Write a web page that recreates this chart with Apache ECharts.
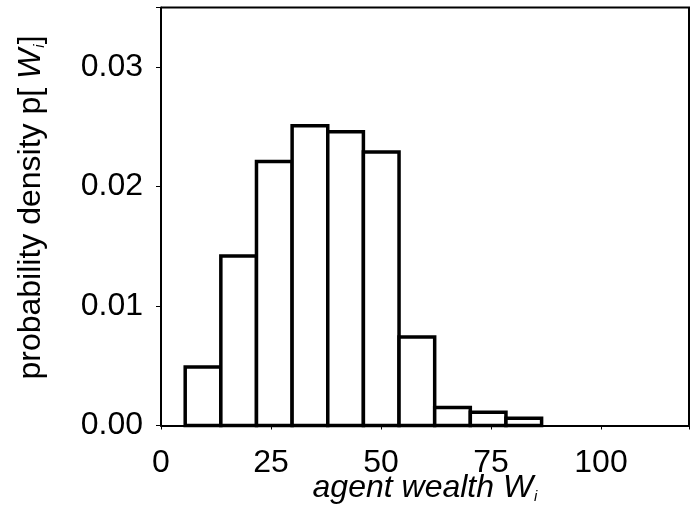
<!DOCTYPE html>
<html>
<head>
<meta charset="utf-8">
<script src="https://cdn.jsdelivr.net/npm/echarts@6/dist/echarts.min.js"></script>
<style>html,body{margin:0;padding:0;background:#fff}#c{width:697px;height:531px}</style>
</head>
<body>
<div id="c"></div>
<script>
// Histogram bin edges (agent wealth)
const binEdges = [5.5, 13.6, 21.7, 29.8, 37.9, 46.0, 54.1, 62.2, 70.3, 78.4, 86.5];
// Probability density per bin
const density = [0.0049, 0.0142, 0.0221, 0.0251, 0.0246, 0.0229, 0.0074, 0.0015, 0.0011, 0.0006];
const xTicks = [0, 25, 50, 75, 100];
const yTicks = [0.00, 0.01, 0.02, 0.03];
const xRange = [0, 120];
const yRange = [0, 0.035];

const data = density.map((v, i) => [binEdges[i], binEdges[i + 1], v]);

const chart = echarts.init(document.getElementById('c'));
const font = 'Liberation Sans, Arial, sans-serif';
const FS = 32;
chart.setOption({
  backgroundColor: '#fff',
  animation: false,
  grid: {left: 161, right: 8, top: 7.5, bottom: 105.5, containLabel: false, outerBoundsMode: 'none'},
  xAxis: {
    type: 'value', min: xRange[0], max: xRange[1], interval: 25,
    axisLine: {show: true, onZero: false, lineStyle: {color: '#000', width: 2}},
    axisTick: {show: true, length: 4, lineStyle: {color: '#000', width: 1}},
    splitLine: {show: false},
    axisLabel: {color: '#000', fontFamily: font, fontSize: FS, margin: 22,
      formatter: v => xTicks.includes(v) ? String(v) : ''},
    name: 'agent wealth {w|W}{s|i}',
    nameLocation: 'middle', nameGap: 47, nameMoveOverlap: false,
    nameTextStyle: {color: '#000', fontFamily: font, fontSize: FS, fontStyle: 'italic',
      rich: {w: {fontFamily: font, fontSize: FS, fontStyle: 'italic', color: '#000'},
             s: {fontFamily: font, fontSize: 15, fontStyle: 'italic', color: '#000', verticalAlign: 'bottom', padding: [17, 0, 0, 1]}}}
  },
  yAxis: {
    type: 'value', min: yRange[0], max: yRange[1], interval: 0.01,
    axisLine: {show: true, onZero: false, lineStyle: {color: '#000', width: 2}},
    axisTick: {show: true, length: 5, lineStyle: {color: '#000', width: 1}},
    splitLine: {show: false},
    axisLabel: {color: '#000', fontFamily: font, fontSize: FS, margin: 18,
      formatter: v => {
        const t = yTicks.find(y => Math.abs(y - v) < 1e-9);
        return t === undefined ? '' : t.toFixed(2);
      }},
    name: 'probability density p[ {w|W}{s|i}]',
    nameLocation: 'middle', nameGap: 114, nameMoveOverlap: false,
    nameTextStyle: {color: '#000', fontFamily: font, fontSize: FS, padding: [0, 0, 0, 18],
      rich: {w: {fontFamily: font, fontSize: FS, fontStyle: 'italic', color: '#000'},
             s: {fontFamily: font, fontSize: 15, fontStyle: 'italic', color: '#000', verticalAlign: 'bottom', padding: [17, 0, 0, 1]}}}
  },
  series: [{
    type: 'custom',
    data: data,
    encode: {x: [0, 1], y: 2},
    renderItem: function (params, api) {
      const p0 = api.coord([api.value(0), api.value(2)]);
      const p1 = api.coord([api.value(1), 0]);
      return {
        type: 'rect',
        shape: {x: p0[0], y: p0[1], width: p1[0] - p0[0], height: p1[1] - p0[1]},
        style: {fill: '#fff', stroke: '#000', lineWidth: 3.5}
      };
    }
  }]
});
// Plot frame (top and right sides of the box), positioned through the chart's own scales
try {
  const tl = chart.convertToPixel({gridIndex: 0}, [xRange[0], yRange[1]]);
  const br = chart.convertToPixel({gridIndex: 0}, [xRange[1], yRange[0]]);
  chart.setOption({
    graphic: [{
      type: 'polyline', z: 100, silent: true,
      shape: {points: [[tl[0], tl[1]], [br[0], tl[1]], [br[0], br[1]]]},
      style: {stroke: '#000', lineWidth: 2, fill: null}
    }]
  });
} catch (e) {}
</script>
</body>
</html>
